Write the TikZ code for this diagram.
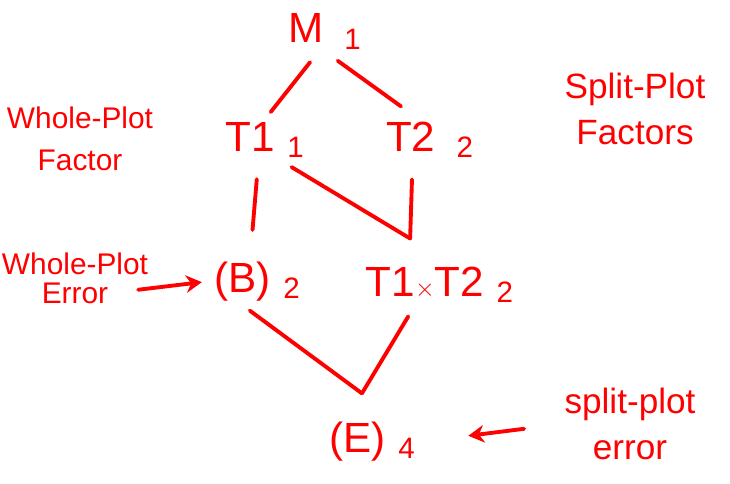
\documentclass[tikz,border=0pt]{standalone}
\usepackage{fontspec}
\setmainfont{Liberation Sans}
\usetikzlibrary{arrows.meta,positioning}
\definecolor{inkred}{RGB}{255,0,0}

\begin{document}
\begin{tikzpicture}[
			term/.style={
				text=inkred,
				inner sep=4pt,
				font=\fontsize{24}{28}\selectfont
			},
			note/.style={
				text=inkred,
				align=center,
				inner sep=1pt,
				font=\fontsize{17}{24}\selectfont
			},
			bignote/.style={
				note,
				font=\fontsize{20}{26}\selectfont
			},
			link/.style={
				draw=inkred,
				line width=2.2pt,
				line cap=round
			},
			pointer/.style={
				-{Stealth[length=9pt,width=10pt]},
				draw=inkred,
				line width=2.2pt,
				line cap=round
			}
			]
			\useasboundingbox (0,0) rectangle (14.6,9.68);
			
			% Terms
			\node[term] (mean) at (6.5,9.05) {M\hspace{0.5em}\textsubscript{1}};
			\node[term] (tone) at (5.3,6.88) {T1\hspace{0.3em}\textsubscript{1}};
			\node[term] (ttwo) at (8.6,6.88) {T2\hspace{0.5em}\textsubscript{2}};
			\node[term] (block) at (5.15,4.05) {(B)\hspace{0.3em}\textsubscript{2}};
			\node[term] (inter) at (8.8,3.98) {T1{\fontsize{14}{16}\selectfont$\times$}T2\hspace{0.3em}\textsubscript{2}};
			\node[term] (resid) at (7.45,0.85) {(E)\hspace{0.3em}\textsubscript{4}};
			
			% Notes
			\node[note] (wpfac) at (1.6,6.9) {Whole-Plot\\Factor};
			\node[note] (wpname) at (1.5,4.4) {Whole-Plot};
			\node[note,below=2pt of wpname] (wperr) {Error};
			\node[bignote] (spfac) at (12.7,7.5) {Split-Plot\\Factors};
			\node[bignote] (sperr) at (12.6,1.2) {split-plot\\error};
			
			% Lines between terms
			\draw[link,shorten <=4pt,shorten >=2pt] ([xshift=-6pt]mean.south) -- ([xshift=2pt]tone.north);
			\draw[link,shorten <=4pt,shorten >=8pt] ([xshift=4pt]mean.south) -- ([xshift=-10pt]ttwo.north);
			\draw[link,shorten <=8pt,shorten >=14pt] ([xshift=-4pt]tone.south) -- ([xshift=-4pt]block.north);
			\draw[link,shorten <=6pt] ([xshift=10pt,yshift=2pt]tone.south) -- ([xshift=-17pt,yshift=12pt]inter.north);
			\draw[link,shorten <=8pt] ([xshift=-10pt]ttwo.south) -- ([xshift=-17pt,yshift=12pt]inter.north);
			\draw[link,shorten <=2pt] ([xshift=-6pt]block.south) -- ([xshift=-6pt,yshift=12pt]resid.north);
			\draw[link,shorten <=4pt] ([xshift=-16pt]inter.south) -- ([xshift=-6pt,yshift=12pt]resid.north);
			
			% Pointers
			\draw[pointer,shorten <=16pt,shorten >=3pt] (wperr.east) -- (block.west);
			\draw[pointer,shorten <=22pt,shorten >=26pt] (sperr.west) -- (resid.east);
			
		\end{tikzpicture}
\end{document}
